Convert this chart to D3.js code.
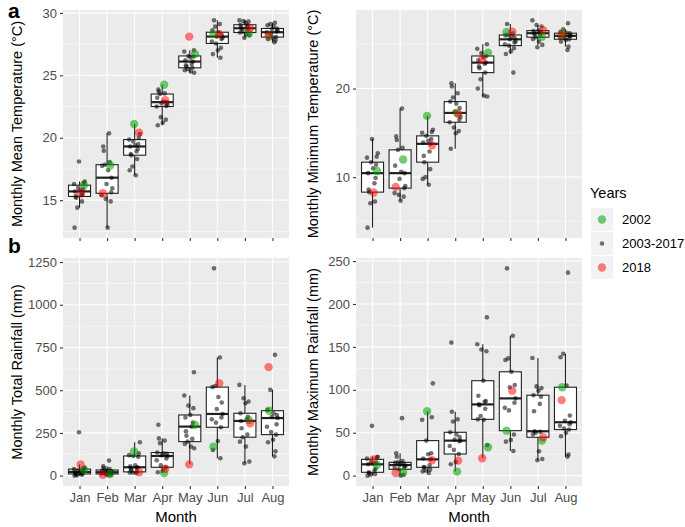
<!DOCTYPE html>
<html><head><meta charset="utf-8">
<script src="https://cdn.jsdelivr.net/npm/d3@7"></script>
<style>
body{margin:0;background:#fff}
svg{display:block}
text{font-family:"Liberation Sans",Arial,sans-serif}
</style>
</head><body>
<svg id="c" width="685" height="527"></svg>
<script>
// ---------------- DATA ----------------
const months = ["Jan","Feb","Mar","Apr","May","Jun","Jul","Aug"];
const legendLabels = ["2002","2003-2017","2018"];

// Monthly mean temperature (°C)
const meanTempGrey = [
  [12.8,14.4,14.9,15.2,15.3,15.4,15.5,15.7,15.8,15.9,16.0,16.3,16.4,16.5,18.1],
  [12.8,14.9,15.1,15.4,15.63,15.95,16.3,16.8,17.4,17.75,17.84,18.05,18.95,19.3,20.35],
  [17.0,17.4,17.7,18.3,18.6,18.7,18.9,19.1,19.3,19.4,19.5,19.7,19.85,20.0,20.3],
  [21.0,21.2,21.45,21.65,22.5,22.55,22.65,22.75,22.85,22.9,23.2,23.5,23.55,23.7,23.85],
  [25.2,25.3,25.4,25.5,25.6,25.7,25.8,25.9,26.1,26.2,26.4,26.5,26.55,26.9,27.0],
  [26.4,26.7,27.0,27.2,27.55,27.7,27.9,28.0,28.1,28.2,28.45,28.6,28.9,29.1,29.4],
  [28.0,28.2,28.3,28.43,28.5,28.6,28.7,28.85,28.9,29.0,29.05,29.2,29.3,29.35,29.4],
  [27.65,27.8,27.9,28.0,28.06,28.3,28.45,28.5,28.6,28.7,28.75,28.9,29.0,29.1,29.2]
];
const meanTemp2002 = [16.2,17.8,21.1,24.24,26.7,28.3,28.37,28.1];
const meanTemp2018 = [15.6,15.55,20.4,23.0,28.1,28.3,28.77,28.2];

// Monthly minimum temperature (°C)
const minTempGrey = [
  [4.3,7.05,7.25,8.31,8.6,9.3,9.9,10.45,11.0,11.4,11.69,12.2,12.3,12.7,14.3],
  [7.33,7.8,8.0,8.2,8.76,9.0,9.8,10.45,10.6,11.3,13.08,13.3,14.2,14.6,17.74],
  [9.14,9.8,10.0,10.9,11.69,12.4,12.9,13.76,13.9,14.1,14.3,14.66,15.0,15.1,15.34],
  [13.2,14.96,15.2,15.6,16.2,16.47,16.8,17.4,17.8,18.3,18.53,19.0,19.47,20.23,20.6],
  [19.1,19.2,20.0,21.05,21.8,22.29,22.5,22.8,22.93,23.2,23.5,23.68,24.0,24.5,25.0],
  [21.8,23.9,24.2,24.55,24.85,25.0,25.2,25.3,25.56,25.7,25.9,26.0,26.05,26.2,27.29],
  [24.66,24.93,25.3,25.6,25.8,26.0,26.1,26.25,26.3,26.4,26.5,26.54,27.0,27.18,27.7],
  [24.36,24.73,25.3,25.5,25.57,25.7,25.8,25.9,25.95,26.0,26.25,26.3,26.4,26.7,27.37]
];
const minTemp2002 = [10.7,12.0,16.92,17.25,24.06,26.4,25.86,26.1];
const minTemp2018 = [8.27,8.9,13.6,17.14,23.31,26.43,26.6,26.08];

// Monthly total rainfall (mm)
const totalRainGrey = [
  [0,2,5,8,10,12,15,18,22,25,28,38,42,48,254],
  [2,5,8,12,15,18,20,25,28,30,33,38,45,55,88],
  [15,18,18,22,35,40,45,49,55,60,110,115,120,130,195],
  [20,30,49,60,90,100,115,120,128,130,135,190,205,218,298],
  [160,170,185,199,215,234,260,287,310,340,355,395,410,469,605],
  [102,150,203,283,310,330,340,361,390,428,460,518,525,691,1213],
  [72,82,170,199,225,240,277,320,330,345,365,424,434,453,531],
  [113,142,195,210,240,255,286,300,337,345,355,365,385,502,707]
];
const totalRain2002 = [33,10,141,15,297,170,325,380];
const totalRain2018 = [65,5,20,40,66,541,307,635];

// Monthly maximum rainfall (mm)
const maxRainGrey = [
  [0,1,2,3,3.9,6,8,13.2,14,15,16,19.8,21,22,58],
  [0,1,7.4,9,10,11,12.4,13,14,15,15.5,17,22,26,67],
  [3,5,6,7,9.7,10,12,19,20,25,26,40.8,65,68,107.5],
  [13.2,16,25.2,30,34.5,40,40.8,42,45,48,50.5,63,65.6,74.5,155],
  [35.7,65,65.6,69.5,78,82,83,86,87,93,110.6,145,147,153,184.4],
  [28.7,39.6,41.5,48,76,79,85,90,103,105.6,121,134.7,136.6,163,241.5],
  [18,19.4,28.4,48,50,51,51.7,75,83.6,92,93.7,99,102,104,137],
  [22,24.5,45.9,50,53.7,55,58,60,62.2,64,70,105,138,142,236.5]
];
const maxRain2002 = [12.4,4,75,4.7,33,52.4,40.8,103];
const maxRain2018 = [19,3,18,17.5,20.2,99,44.7,88];

// Tick labels
const meanTempTicks = [15,20,25,30];
const minTempTicks = [10,20];
const totalRainTicks = [0,250,500,750,1000,1250];
const maxRainTicks = [0,50,100,150,200,250];

// ---------------- LAYOUT ----------------
// fixed horizontal jitter pattern (fraction of category step)
const jitterPattern = [-0.18,0.07,-0.05,0.16,-0.12,0.02,0.19,-0.08,0.11,-0.2,0.04,-0.14,0.13,-0.02,0.09,-0.16,0.15];
const W = 226, H = 228;
const GREEN = "rgb(0,160,0)", RED = "rgb(255,0,0)";

const panels = [
  {grey: meanTempGrey, g: meanTemp2002, r: meanTemp2018, ticks: meanTempTicks, title: "Monthly Mean Temperature (°C)", x0: 63, y0: 10, xlabels: false, titleX: 17},
  {grey: minTempGrey, g: minTemp2002, r: minTemp2018, ticks: minTempTicks, title: "Monthly Minimum Temperature (°C)", x0: 356, y0: 10, xlabels: false, titleX: 313},
  {grey: totalRainGrey, g: totalRain2002, r: totalRain2018, ticks: totalRainTicks, title: "Monthly Total Rainfall (mm)", x0: 63, y0: 258, xlabels: true, titleX: 17},
  {grey: maxRainGrey, g: maxRain2002, r: maxRain2018, ticks: maxRainTicks, title: "Monthly Maximum Rainfall (mm)", x0: 356, y0: 258, xlabels: true, titleX: 313}
];

const svg = d3.select("#c");
svg.append("rect").attr("width",685).attr("height",527).attr("fill","#fff");

panels.forEach((p) => {
  const all = months.map((m,i) => [...p.grey[i], p.g[i], p.r[i]]);
  const flat = all.flat();
  const [mn, mx] = d3.extent(flat);
  const pad = (mx - mn) * 0.05;
  const y = d3.scaleLinear().domain([mn - pad, mx + pad]).range([H, 0]);
  const x = d3.scalePoint().domain(months).range([0, W]).padding(0.6);
  const step = x.step();

  const g = svg.append("g").attr("transform", `translate(${p.x0},${p.y0})`);
  g.append("rect").attr("width", W).attr("height", H).attr("fill", "#EBEBEB");

  // minor grid
  const tstep = p.ticks[1] - p.ticks[0];
  const minors = [];
  for (let t = p.ticks[0] - tstep/2; t <= p.ticks[p.ticks.length-1] + tstep/2 + 1e-9; t += tstep) {
    if (t >= y.domain()[0] && t <= y.domain()[1]) minors.push(t);
  }
  g.selectAll(".minor").data(minors).join("line")
    .attr("x1", 0).attr("x2", W).attr("y1", d => y(d)).attr("y2", d => y(d))
    .attr("stroke", "#fff").attr("stroke-width", 0.55);
  g.selectAll(".major").data(p.ticks).join("line")
    .attr("x1", 0).attr("x2", W).attr("y1", d => y(d)).attr("y2", d => y(d))
    .attr("stroke", "#fff").attr("stroke-width", 1.1);
  g.selectAll(".vmajor").data(months).join("line")
    .attr("x1", d => x(d)).attr("x2", d => x(d)).attr("y1", 0).attr("y2", H)
    .attr("stroke", "#fff").attr("stroke-width", 1.1);

  // boxplots
  const bw = step * 0.8;
  months.forEach((m, i) => {
    const s = all[i].slice().sort(d3.ascending);
    const q1 = d3.quantileSorted(s, 0.25), q2 = d3.quantileSorted(s, 0.5), q3 = d3.quantileSorted(s, 0.75);
    const iqr = q3 - q1;
    const lo = d3.min(s.filter(v => v >= q1 - 1.5*iqr));
    const hi = d3.max(s.filter(v => v <= q3 + 1.5*iqr));
    const cx = x(m);
    const bg = g.append("g");
    bg.append("line").attr("x1", cx).attr("x2", cx).attr("y1", y(q3)).attr("y2", y(hi)).attr("stroke", "#222").attr("stroke-width", 1.1);
    bg.append("line").attr("x1", cx).attr("x2", cx).attr("y1", y(q1)).attr("y2", y(lo)).attr("stroke", "#222").attr("stroke-width", 1.1);
    bg.append("rect").attr("x", cx - bw/2).attr("y", y(q3)).attr("width", bw).attr("height", y(q1) - y(q3))
      .attr("fill", "#fff").attr("stroke", "#222").attr("stroke-width", 1.1);
    bg.append("line").attr("x1", cx - bw/2).attr("x2", cx + bw/2).attr("y1", y(q2)).attr("y2", y(q2))
      .attr("stroke", "#222").attr("stroke-width", 2.2);
  });

  // points
  months.forEach((m, i) => {
    const jit = k => jitterPattern[(k * 7 + i * 5) % jitterPattern.length] * step;
    p.grey[i].forEach((v, k) => {
      g.append("circle").attr("cx", x(m) + jit(k)).attr("cy", y(v)).attr("r", 2.3)
        .attr("fill", "#000").attr("fill-opacity", 0.55);
    });
    g.append("circle").attr("cx", x(m) + jit(15)).attr("cy", y(p.g[i])).attr("r", 4.2)
      .attr("fill", GREEN).attr("fill-opacity", 0.55);
    g.append("circle").attr("cx", x(m) + jit(16)).attr("cy", y(p.r[i])).attr("r", 4.2)
      .attr("fill", RED).attr("fill-opacity", 0.5);
  });

  // axes
  const ya = g.append("g").call(d3.axisLeft(y).tickValues(p.ticks).tickSize(3).tickPadding(3).tickFormat(d3.format("d")));
  ya.select(".domain").remove();
  ya.selectAll(".tick line").attr("stroke", "#333").attr("stroke-width", 1.1);
  ya.selectAll(".tick text").attr("fill", "#4D4D4D").style("font-size", "13px").style("font-family", "Liberation Sans, Arial, sans-serif");

  const xa = g.append("g").attr("transform", `translate(0,${H})`).call(d3.axisBottom(x).tickSize(3).tickPadding(4));
  xa.select(".domain").remove();
  xa.selectAll(".tick line").attr("stroke", "#333").attr("stroke-width", 1.1);
  if (p.xlabels) {
    xa.selectAll(".tick text").attr("fill", "#4D4D4D").style("font-size", "13px").style("font-family", "Liberation Sans, Arial, sans-serif");
    svg.append("text").attr("x", p.x0 + W/2).attr("y", 522).attr("text-anchor", "middle")
      .style("font-size", "15px").attr("fill", "#000").text("Month");
  } else {
    xa.selectAll(".tick text").remove();
  }

  // y title
  svg.append("text")
    .attr("transform", `translate(${p.titleX + 5},${p.y0 + H/2}) rotate(-90)`)
    .attr("text-anchor", "middle").style("font-size", "14.5px").attr("fill", "#000").text(p.title);
});

// panel letters
svg.append("text").attr("x", 8).attr("y", 18).style("font-size", "21px").style("font-weight", "bold").text("a");
svg.append("text").attr("x", 8).attr("y", 253).style("font-size", "21px").style("font-weight", "bold").text("b");

// legend
const lg = svg.append("g").attr("transform", "translate(591,0)");
lg.append("text").attr("x", -1).attr("y", 198).style("font-size", "14.5px").attr("fill", "#000").text("Years");
const keyStyles = [
  {fill: GREEN, op: 0.55, r: 4.2},
  {fill: "#000", op: 0.55, r: 2.3},
  {fill: RED, op: 0.5, r: 4.2}
];
legendLabels.forEach((lab, i) => {
  const ky = 208 + i * 24;
  lg.append("rect").attr("x", 0).attr("y", ky).attr("width", 22).attr("height", 23).attr("fill", "#F2F2F2");
  lg.append("circle").attr("cx", 11).attr("cy", ky + 11.5).attr("r", keyStyles[i].r)
    .attr("fill", keyStyles[i].fill).attr("fill-opacity", keyStyles[i].op);
  lg.append("text").attr("x", 31).attr("y", ky + 11.5).attr("dy", "0.35em")
    .style("font-size", "13px").attr("fill", "#000").text(lab);
});
</script>
</body></html>
